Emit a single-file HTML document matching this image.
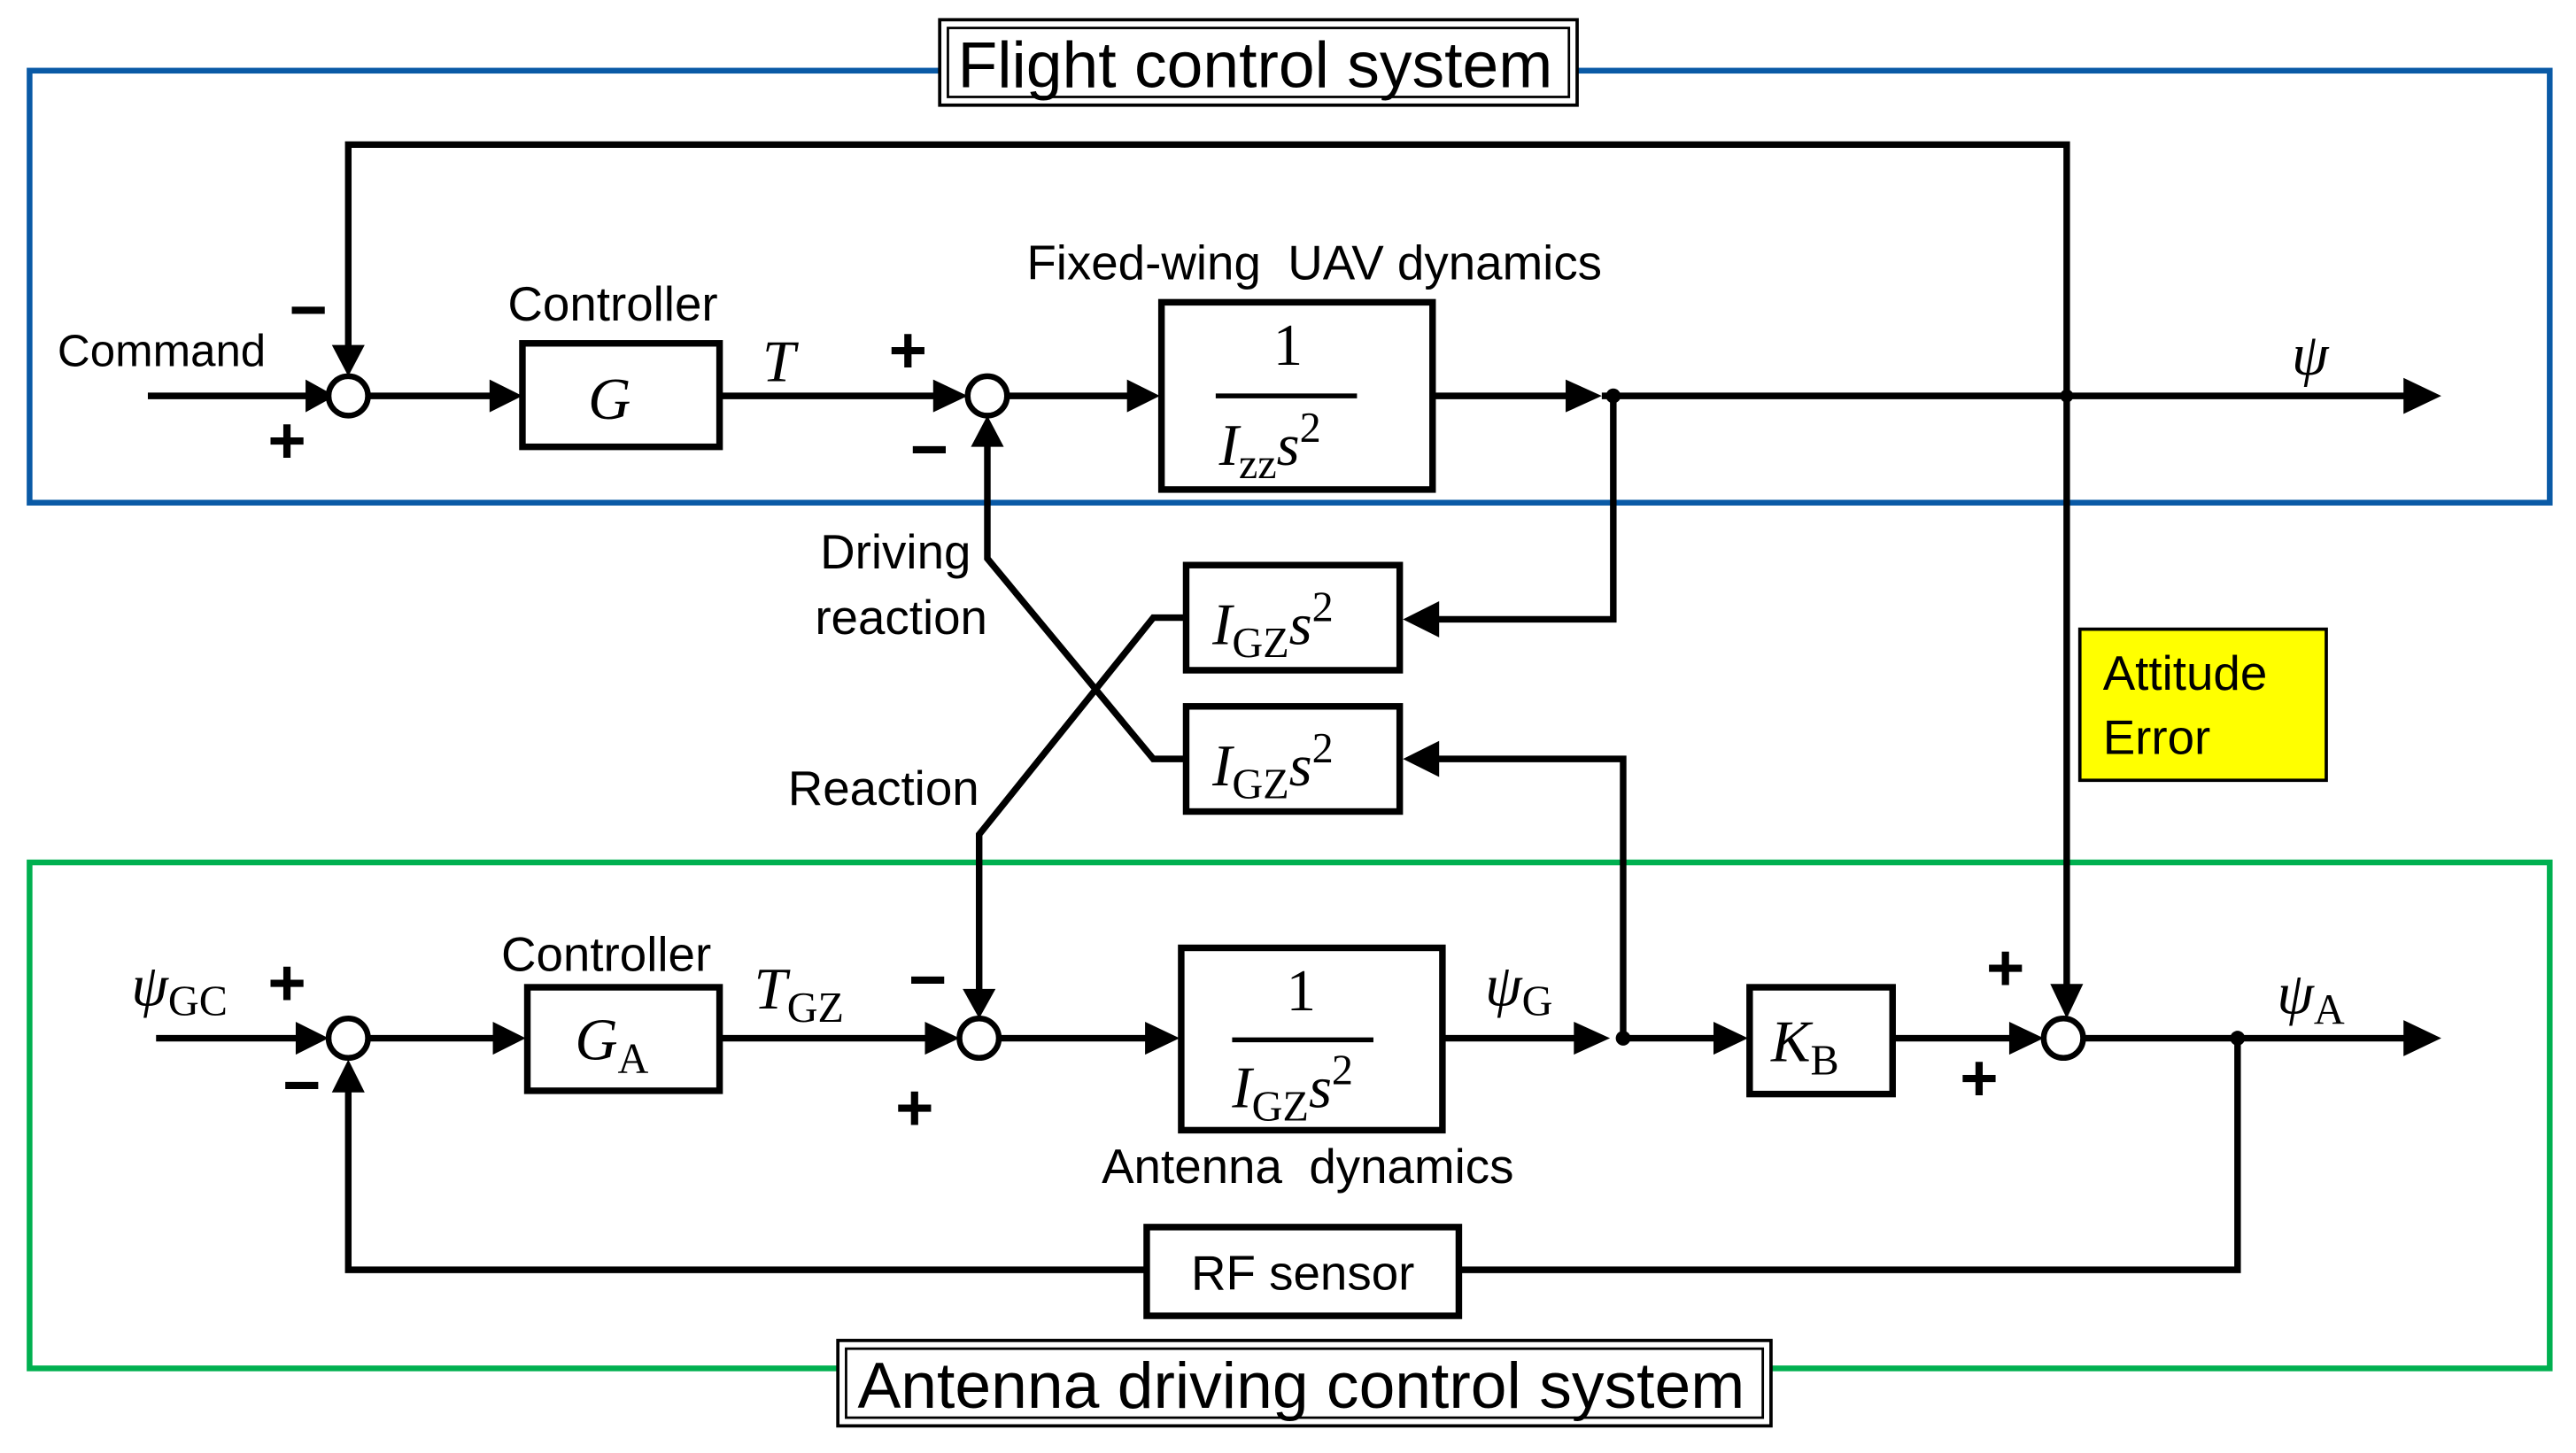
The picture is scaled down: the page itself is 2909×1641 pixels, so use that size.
<!DOCTYPE html>
<html><head><meta charset="utf-8"><style>html,body{margin:0;padding:0;background:#fff}svg{display:block}</style></head><body>
<svg width="2909" height="1641" viewBox="0 0 1568 884.5" xmlns="http://www.w3.org/2000/svg">
<style>
.s{font-family:"Liberation Sans",sans-serif;font-size:29.5px}
.m{font-family:"Liberation Serif",serif;font-style:italic;font-size:36px}
.n{font-family:"Liberation Serif",serif;font-size:26px}
.p{font-family:"Liberation Sans",sans-serif;font-size:40px;font-weight:bold}
line,polyline{stroke:#000;stroke-width:4;fill:none}
rect.b{fill:#fff;stroke:#000;stroke-width:4}
circle{fill:#fff;stroke:#000;stroke-width:3.5}
</style>
<rect x="18" y="43" width="1534" height="263" fill="none" stroke="#0a5aa6" stroke-width="3.5"/>
<rect x="18" y="525" width="1534" height="308" fill="none" stroke="#00b050" stroke-width="3.5"/>
<polyline points="90,241 200,241"/><polygon points="186,231 204,241 186,251"/>
<polyline points="1258,241 1258,88 212,88 212,212"/><polygon points="202,210 212,229 222,210"/>
<line x1="224" y1="241" x2="305" y2="241"/><polygon points="298,231 318,241 298,251"/>
<rect class="b" x="318" y="209" width="120" height="63"/>
<line x1="438" y1="241" x2="575" y2="241"/><polygon points="568,231 589,241 568,251"/>
<line x1="613" y1="241" x2="695" y2="241"/><polygon points="686,231 706,241 686,251"/>
<rect class="b" x="707" y="184" width="165" height="114"/>
<line x1="740" y1="241" x2="826" y2="241" style="stroke-width:3"/>
<line x1="872" y1="241" x2="960" y2="241"/><polygon points="953,231 975,241 953,251"/>
<line x1="975" y1="241" x2="1470" y2="241"/><polygon points="1463,230 1486,241 1463,252"/>
<circle cx="982" cy="241" r="4.5" style="fill:#000;stroke:none"/>
<circle cx="1258" cy="241" r="4" style="fill:#000;stroke:none"/>
<polyline points="982,241 982,377 870,377"/><polygon points="876,366 854,377 876,388"/>
<rect class="b" x="722" y="344" width="130" height="64"/>
<rect class="b" x="722" y="430" width="130" height="64"/>
<polyline points="988,632 988,462 870,462"/><polygon points="876,451 854,462 876,473"/>
<polyline points="722,376 702,376 596,508 596,610"/><polygon points="586,602 596,620 606,602"/>
<polyline points="722,462 702,462 601,340 601,268"/><polygon points="591,272 601,253 611,272"/>
<circle cx="212" cy="241" r="12"/><circle cx="601" cy="241" r="12"/>
<line x1="95" y1="632" x2="185" y2="632"/><polygon points="180,622 200,632 180,642"/>
<line x1="224" y1="632" x2="305" y2="632"/><polygon points="300,622 320,632 300,642"/>
<rect class="b" x="321" y="601" width="117" height="63"/>
<line x1="438" y1="632" x2="570" y2="632"/><polygon points="563,622 584,632 563,642"/>
<line x1="608" y1="632" x2="705" y2="632"/><polygon points="697,622 718,632 697,642"/>
<rect class="b" x="719" y="577" width="159" height="111"/>
<line x1="750" y1="633" x2="836" y2="633" style="stroke-width:3"/>
<line x1="878" y1="632" x2="965" y2="632"/><polygon points="958,622 980,632 958,642"/>
<circle cx="988" cy="632" r="4.5" style="fill:#000;stroke:none"/>
<line x1="988" y1="632" x2="1050" y2="632"/><polygon points="1043,622 1064,632 1043,642"/>
<rect class="b" x="1065" y="601" width="87" height="65"/>
<line x1="1152" y1="632" x2="1230" y2="632"/><polygon points="1223,622 1244,632 1223,642"/>
<line x1="1258" y1="241" x2="1258" y2="605"/><polygon points="1248,599 1258,620 1268,599"/>
<line x1="1268" y1="632" x2="1470" y2="632"/><polygon points="1463,621 1486,632 1463,643"/>
<circle cx="1362" cy="632" r="4.5" style="fill:#000;stroke:none"/>
<polyline points="1362,632 1362,773 888,773"/>
<rect class="b" x="698" y="747" width="190" height="54"/>
<polyline points="698,773 212,773 212,660"/><polygon points="202,665 212,645 222,665"/>
<circle cx="212" cy="632" r="12"/><circle cx="596" cy="632" r="12"/><circle cx="1256" cy="632" r="12"/>
<rect x="1266" y="383" width="150" height="92" fill="#ffff00" stroke="#000" stroke-width="2"/>
<text class="s" x="1280" y="420">Attitude</text><text class="s" x="1280" y="459">Error</text>
<rect x="572" y="12" width="388" height="52" fill="#fff" stroke="#000" stroke-width="2"/>
<rect x="577" y="17" width="378" height="42" fill="none" stroke="#000" stroke-width="1.5"/>
<text class="s" x="764" y="53" text-anchor="middle" style="font-size:39.5px">Flight control system</text>
<rect x="510" y="816" width="568" height="52" fill="#fff" stroke="#000" stroke-width="2"/>
<rect x="515" y="821" width="558" height="42" fill="none" stroke="#000" stroke-width="1.5"/>
<text class="s" x="792" y="857" text-anchor="middle" style="font-size:39.5px">Antenna driving control system</text>
<text class="s" x="35" y="223" style="font-size:27.5px">Command</text>
<text class="s" x="373" y="195" text-anchor="middle">Controller</text>
<text class="s" x="369" y="591" text-anchor="middle">Controller</text>
<text class="s" x="800" y="170" text-anchor="middle">Fixed-wing&#160; UAV dynamics</text>
<text class="s" x="796" y="720" text-anchor="middle">Antenna&#160; dynamics</text>
<text class="s" x="591" y="346" text-anchor="end">Driving</text>
<text class="s" x="601" y="386" text-anchor="end">reaction</text>
<text class="s" x="596" y="490" text-anchor="end">Reaction</text>
<text class="s" x="793" y="785" text-anchor="middle">RF sensor</text>
<text class="p" x="176" y="202">−</text><text class="p" x="163" y="282">+</text>
<text class="p" x="541" y="227">+</text><text class="p" x="554" y="287">−</text>
<text class="p" x="163" y="612">+</text><text class="p" x="172" y="674">−</text>
<text class="p" x="553" y="610">−</text><text class="p" x="545" y="688">+</text>
<text class="p" x="1209" y="603">+</text><text class="p" x="1193" y="670">+</text>
<text class="m" x="358" y="255">G</text>
<text class="m" x="464" y="232">T</text>
<text class="m" x="1395" y="228">ψ</text>
<text class="n" x="784" y="222" text-anchor="middle" style="font-size:36px">1</text>
<text class="m" x="742" y="283">I<tspan class="n" style="font-style:normal;font-size:26px" dy="8">zz</tspan><tspan dy="-8">s</tspan><tspan class="n" style="font-style:normal;font-size:26px" dy="-14">2</tspan></text>
<text class="m" x="738" y="392">I<tspan style="font-style:normal;font-size:26px" dy="8">GZ</tspan><tspan dy="-8">s</tspan><tspan style="font-style:normal;font-size:26px" dy="-14">2</tspan></text>
<text class="m" x="738" y="478">I<tspan style="font-style:normal;font-size:26px" dy="8">GZ</tspan><tspan dy="-8">s</tspan><tspan style="font-style:normal;font-size:26px" dy="-14">2</tspan></text>
<text class="n" x="792" y="615" text-anchor="middle" style="font-size:36px">1</text>
<text class="m" x="750" y="674">I<tspan style="font-style:normal;font-size:26px" dy="8">GZ</tspan><tspan dy="-8">s</tspan><tspan style="font-style:normal;font-size:26px" dy="-14">2</tspan></text>
<text class="m" x="350" y="645">G<tspan style="font-style:normal;font-size:26px" dy="8">A</tspan></text>
<text class="m" x="459" y="614">T<tspan style="font-style:normal;font-size:26px" dy="8">GZ</tspan></text>
<text class="m" x="80" y="612">ψ<tspan style="font-style:normal;font-size:26px" dy="6">GC</tspan></text>
<text class="m" x="904" y="612">ψ<tspan style="font-style:normal;font-size:26px" dy="6">G</tspan></text>
<text class="m" x="1386" y="617">ψ<tspan style="font-style:normal;font-size:26px" dy="6">A</tspan></text>
<text class="m" x="1078" y="646">K<tspan style="font-style:normal;font-size:26px" dy="8">B</tspan></text>
</svg>
</body></html>
